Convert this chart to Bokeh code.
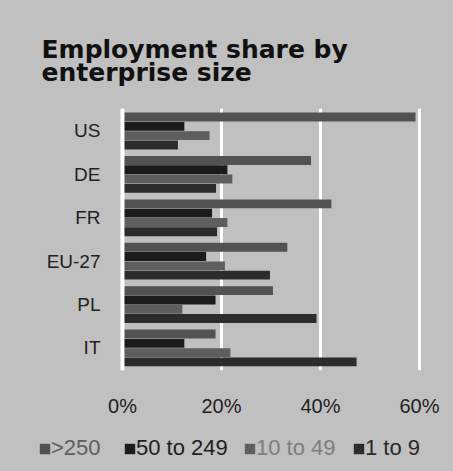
from bokeh.plotting import figure
from bokeh.models import (Range1d, FixedTicker, Span, Title, Legend, LegendItem)
from bokeh.layouts import column
from bokeh.embed import file_html
from bokeh.resources import INLINE

# ---- data ----
countries = ["US", "DE", "FR", "EU-27", "PL", "IT"]
size_classes = [">250", "50 to 249", "10 to 49", "1 to 9"]
share_250_plus = [59.2, 38.1, 42.2, 33.3, 30.4, 18.8]
share_50_249 = [12.5, 21.2, 18.1, 16.9, 18.8, 12.5]
share_10_49 = [17.6, 22.2, 21.2, 20.7, 12.1, 21.8]
share_1_9 = [11.2, 18.9, 19.1, 29.8, 39.2, 47.3]
x_ticks = [0, 20, 40, 60]
x_tick_labels = ["0%", "20%", "40%", "60%"]

series = [share_250_plus, share_50_249, share_10_49, share_1_9]
bar_colors = ["#525252", "#1b1b1b", "#5e5e5e", "#2c2c2c"]
legend_text_colors = ["#5e5e5e", "#1e1e1e", "#7e7e7e", "#2a2a2a"]
legend_x = [38, 123, 243, 352]

BG = "#c0c0c0"
W = 453
n = len(countries)
group_pos = [n - 1 - i for i in range(n)]  # US on top


def bar_y(k):
    return [g + (1.5 - k) * 0.2143 for g in group_pos]


p = figure(width=W, height=425, output_backend="svg", toolbar_location=None,
           x_range=Range1d(-0.6, 61.62), y_range=Range1d(-0.519, n - 1 + 0.518),
           min_border_left=119, min_border_right=26, min_border_bottom=55,
           min_border_top=108, title=None)
p.frame_align = False
p.background_fill_color = BG
p.border_fill_color = BG
p.outline_line_color = None

# grid
p.xgrid.ticker = FixedTicker(ticks=x_ticks)
p.xgrid.grid_line_color = "white"
p.xgrid.grid_line_width = 3
p.ygrid.grid_line_color = None

for k, vals in enumerate(series):
    p.hbar(y=bar_y(k), left=0, right=vals, height=0.205,
           fill_color=bar_colors[k], line_color=None)

p.add_layout(Span(location=0, dimension="height", line_color="white",
                  line_width=4, level="overlay"))

# x axis
xa = p.xaxis[0]
xa.ticker = FixedTicker(ticks=x_ticks)
xa.major_label_overrides = {t: l for t, l in zip(x_ticks, x_tick_labels)}
xa.axis_line_color = None
xa.major_tick_line_color = None
xa.minor_tick_line_color = None
xa.major_tick_in = 0
xa.major_tick_out = 0
xa.major_label_standoff = 24
xa.major_label_text_font = "Liberation Sans"
xa.major_label_text_font_size = "20px"
xa.major_label_text_color = "#222222"

# y axis
ya = p.yaxis[0]
ya.ticker = FixedTicker(ticks=group_pos)
ya.major_label_overrides = {g: c for g, c in zip(group_pos, countries)}
ya.axis_line_color = None
ya.major_tick_line_color = None
ya.minor_tick_line_color = None
ya.major_tick_in = 0
ya.major_tick_out = 0
ya.major_label_standoff = 19
ya.major_label_text_font = "Liberation Sans"
ya.major_label_text_font_size = "19px"
ya.major_label_text_color = "#222222"

# title (two lines)
t = Title(text="Employment share by\nenterprise size", align="left", offset=-78,
          standoff=42, text_font="DejaVu Sans", text_font_style="bold",
          text_font_size="25px", text_color="#111111", text_line_height=0.82)
p.add_layout(t, "above")

# legend strip: one legend per item so each text keeps its own colour
lf = figure(width=W, height=46, output_backend="svg", toolbar_location=None,
            x_axis_type=None, y_axis_type=None, min_border=0, title=None,
            x_range=Range1d(0, 1), y_range=Range1d(0, 1))
lf.frame_align = False
lf.background_fill_color = BG
lf.border_fill_color = BG
lf.outline_line_color = None
lf.xgrid.grid_line_color = None
lf.ygrid.grid_line_color = None
for k in range(len(size_classes)):
    # same series, hidden here: only used to draw the legend swatch
    r = lf.hbar(y=bar_y(k), left=0, right=series[k], height=0.205,
                fill_color=bar_colors[k], line_color=None, visible=False)
    leg = Legend(items=[LegendItem(label=size_classes[k], renderers=[r])],
                 location=(legend_x[k], 10), orientation="horizontal",
                 glyph_width=13, glyph_height=13, label_standoff=0,
                 padding=0, margin=0, border_line_color=None,
                 background_fill_alpha=0, inactive_fill_alpha=0,
                 label_text_font="Liberation Sans",
                 label_text_font_size="22px", label_text_color=legend_text_colors[k])
    lf.add_layout(leg, "center")

layout = column(p, lf, spacing=0, styles={"background-color": BG})
open("out.html", "w").write(file_html(layout, INLINE))
